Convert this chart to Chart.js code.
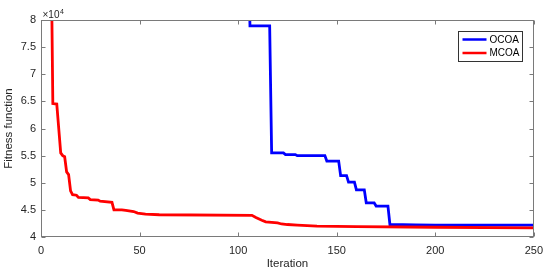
<!DOCTYPE html>
<html>
<head>
<meta charset="utf-8">
<script src="https://cdn.jsdelivr.net/npm/chart.js@4.4.0/dist/chart.umd.min.js"></script>
<style>
  html, body { margin: 0; padding: 0; background: #fff; }
  #wrap { width: 550px; height: 279px; }
</style>
</head>
<body>
<div id="wrap"><canvas id="curvas" width="550" height="279"></canvas></div>
<script>
const iterOCOA = [1, 105, 106, 116, 117, 123, 124, 129, 130, 144, 145, 151, 152, 155, 156, 159, 160, 164, 165, 169, 170, 176, 177, 190, 200, 250];
const fitOCOA = [96000, 96000, 78900, 78900, 55500, 55500, 55200, 55200, 55000, 55000, 54000, 54000, 51300, 51300, 50100, 50100, 48700, 48700, 46300, 46300, 45700, 45700, 42300, 42250, 42200, 42200];

const iterMCOA = [1, 5, 6, 8, 9, 10, 11, 12, 13, 14, 15, 16, 18, 19, 24, 25, 29, 30, 36, 37, 41, 43, 47, 49, 53, 60, 107, 109, 112, 114, 120, 122, 125, 130, 140, 160, 200, 250];
const fitMCOA = [98000, 98000, 64600, 64500, 60000, 55500, 55000, 54800, 52000, 51500, 48500, 47800, 47700, 47300, 47200, 46900, 46800, 46600, 46400, 45000, 45000, 44900, 44700, 44400, 44200, 44100, 44000, 43600, 43100, 42800, 42600, 42400, 42300, 42200, 42000, 41900, 41800, 41700];

const ticksX = [0, 50, 100, 150, 200, 250];
const ticksY = [40000, 45000, 50000, 55000, 60000, 65000, 70000, 75000, 80000];

const fuente = '"Liberation Sans", Arial, Helvetica, sans-serif';
const colorEje = '#7a7a7a';
const colorTexto = '#262626';

const puntos = (xs, ys) => xs.map((x, i) => ({ x: x, y: ys[i] }));

// marco estilo matlab, ticks hacia dentro en los cuatro lados
const marcoPlugin = {
    id: 'marco',
    afterDatasetsDraw(chart) {
        const { ctx, chartArea: a, scales } = chart;
        const l = Math.round(a.left) + 0.5, r = Math.round(a.right) - 0.5;
        const t = Math.round(a.top) + 0.5, b = Math.round(a.bottom) - 0.5;
        ctx.save();
        ctx.strokeStyle = colorEje;
        ctx.lineWidth = 1;
        ctx.strokeRect(l, t, r - l, b - t);
        ctx.beginPath();
        ticksX.forEach(v => {
            const x = Math.round(scales.x.getPixelForValue(v)) + 0.5;
            ctx.moveTo(x, b); ctx.lineTo(x, b - 4);
            ctx.moveTo(x, t); ctx.lineTo(x, t + 4);
        });
        ticksY.forEach(v => {
            const y = Math.round(scales.y.getPixelForValue(v)) + 0.5;
            ctx.moveTo(l, y); ctx.lineTo(l + 4, y);
            ctx.moveTo(r, y); ctx.lineTo(r - 4, y);
        });
        ctx.stroke();

        // factor de escala x10^4
        ctx.fillStyle = colorTexto;
        ctx.textBaseline = 'alphabetic';
        ctx.textAlign = 'left';
        ctx.font = '10px ' + fuente;
        ctx.fillText('\u00d710', l + 1, 17.5);
        const w = ctx.measureText('\u00d710').width;
        ctx.font = '7px ' + fuente;
        ctx.fillText('4', l + 1 + w + 0.5, 13.5);
        ctx.restore();
    },
    afterDraw(chart) {
        // leyenda dentro del area
        const { ctx, chartArea: a } = chart;
        const x0 = Math.round(a.right) - 75.5, y0 = Math.round(a.top) + 11.5;
        ctx.save();
        ctx.fillStyle = '#fff';
        ctx.fillRect(x0, y0, 64, 30);
        ctx.strokeStyle = '#333';
        ctx.lineWidth = 1;
        ctx.strokeRect(x0, y0, 64, 30);
        ctx.font = '10px ' + fuente;
        ctx.textBaseline = 'middle';
        chart.data.datasets.forEach((ds, i) => {
            const y = y0 + 8 + i * 13.5;
            ctx.strokeStyle = ds.borderColor;
            ctx.lineWidth = 2.5;
            ctx.beginPath();
            ctx.moveTo(x0 + 4, y); ctx.lineTo(x0 + 28, y);
            ctx.stroke();
            ctx.fillStyle = '#000';
            ctx.fillText(ds.label, x0 + 31, y + 0.5);
        });
        ctx.restore();
    }
};

const estiloTicks = { color: colorTexto, font: { family: fuente, size: 11 } };

new Chart(document.getElementById('curvas'), {
    type: 'line',
    data: {
        datasets: [{
            label: 'OCOA',
            data: puntos(iterOCOA, fitOCOA),
            borderColor: '#0000ff',
            borderWidth: 2.8,
            pointRadius: 0,
            tension: 0,
            clip: 0,
            order: 1
        }, {
            label: 'MCOA',
            data: puntos(iterMCOA, fitMCOA),
            borderColor: '#ff0000',
            borderWidth: 2.8,
            pointRadius: 0,
            tension: 0,
            clip: 0,
            order: 0
        }]
    },
    options: {
        responsive: false,
        animation: false,
        events: [],
        layout: { padding: { top: 20, right: 14, left: 0, bottom: 0 } },
        plugins: { legend: { display: false }, tooltip: { enabled: false } },
        scales: {
            x: {
                type: 'linear',
                min: 0,
                max: 250,
                afterBuildTicks: s => { s.ticks = ticksX.map(v => ({ value: v })); },
                afterFit: s => { s.height = 42; },
                grid: { display: false, drawTicks: false },
                border: { display: false },
                ticks: { ...estiloTicks, padding: 7, maxRotation: 0, autoSkip: false },
                title: {
                    display: true,
                    text: 'Iteration',
                    color: colorTexto,
                    font: { family: fuente, size: 11.5 },
                    padding: { top: 0, bottom: 8 }
                }
            },
            y: {
                type: 'linear',
                min: 40000,
                max: 80000,
                afterBuildTicks: s => { s.ticks = ticksY.map(v => ({ value: v })); },
                afterFit: s => { s.width = 41; },
                grid: { display: false, drawTicks: false },
                border: { display: false },
                ticks: { ...estiloTicks, padding: 5, autoSkip: false, callback: v => v / 10000 },
                title: {
                    display: true,
                    text: 'Fitness function',
                    color: colorTexto,
                    font: { family: fuente, size: 11.5 },
                    padding: { top: 2, bottom: 0 }
                }
            }
        }
    },
    plugins: [marcoPlugin]
});
</script>
</body>
</html>
